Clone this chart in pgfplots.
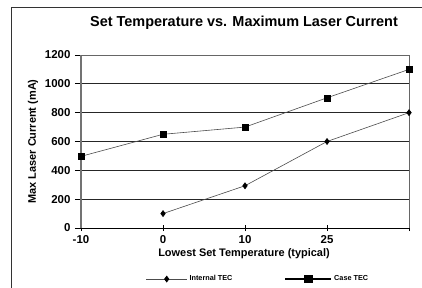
\documentclass[border=0pt]{standalone}
\usepackage{fontspec}
\setmainfont{Liberation Sans}
\usepackage{pgfplots}
\pgfplotsset{compat=1.18}
\begin{document}
\begin{tikzpicture}[x=1bp,y=1bp]
\clip (-81bp,-60bp) rectangle (341bp,228bp);
\draw[line width=1.7bp, black!80] (-69.5bp,-80bp) -- (-69.5bp,220.5bp) -- (360bp,220.5bp);
\begin{axis}[
  at={(0,0)}, anchor=south west,
  scale only axis, width=328bp, height=173bp,
  xmin=0, xmax=4, ymin=0, ymax=1200,
  xtick={0,1,2,3,4}, xticklabels={-10,0,10,25,{}},
  ytick={0,200,...,1200},
  xtick pos=bottom, ytick pos=left,
  /pgf/number format/assume math mode=true,
  /pgf/number format/1000 sep={},
  tick label style={font=\fontsize{11.5}{13}\selectfont\bfseries},
  xticklabel style={yshift=-1bp},
  yticklabel style={xshift=-1bp},
  x tick style={black, line width=0.8bp},
  y tick style={black, line width=0.8bp},
  xtick align=center, ytick align=outside,
  major tick length=6bp,
  ymajorgrids, major grid style={black!85, line width=0.7bp},
  axis line style={draw=none},
  clip=false,
  title={Set Temperature vs. Maximum Laser Current},
  title style={font=\fontsize{14.5}{17}\selectfont\bfseries, at={(axis description cs:0.497,1.15)}, anchor=center},
  xlabel={Lowest Set Temperature (typical)},
  ylabel={Max Laser Current (mA)},
  label style={font=\fontsize{11}{13}\selectfont\bfseries},
  xlabel style={at={(axis description cs:0.497,-0.15)}, anchor=center},
  ylabel style={at={(axis description cs:-0.146,0.5)}, anchor=center},
  legend style={at={(axis description cs:0.197,-0.295)}, anchor=west, draw=none, fill=none,
    font=\fontsize{7.3}{8}\selectfont\bfseries, legend columns=2, inner sep=0pt,
    /tikz/every even column/.style={column sep=50bp}},
  legend cell align=left,
]
% axis frame
\draw[black!55, line width=1.6bp] (rel axis cs:0,0) -- (rel axis cs:0,1);
\draw[black!60, line width=0.6bp] (rel axis cs:0,1) -- (rel axis cs:1,1) -- (rel axis cs:1,0);
\draw[black, line width=0.9bp] (rel axis cs:0,0) -- (rel axis cs:1,0);
\addplot[black!70, line width=0.6bp, mark=diamond*, mark size=3bp, mark options={black, fill=black, solid},
  legend image code/.code={\draw[black!70,line width=0.8bp] (0bp,0bp) -- (41bp,0bp); \fill[black] (20.5bp,0bp) +(0,3bp) -- +(2.2bp,0) -- +(0,-3bp) -- +(-2.2bp,0) -- cycle;}]
  coordinates {(1,100) (2,293) (3,600) (4,800)};
\addlegendentry{Internal TEC}
\addplot[black!70, line width=0.6bp, mark=square*, mark size=3bp, mark options={black, fill=black, solid},
  legend image code/.code={\draw[black,line width=1.8bp] (0bp,0bp) -- (46bp,0bp); \fill[black] (19bp,-3.3bp) rectangle (27bp,3.3bp);}]
  coordinates {(0,497) (1,650) (2,700) (3,903) (4,1100)};
\addlegendentry{Case TEC}
\end{axis}
\end{tikzpicture}
\end{document}
